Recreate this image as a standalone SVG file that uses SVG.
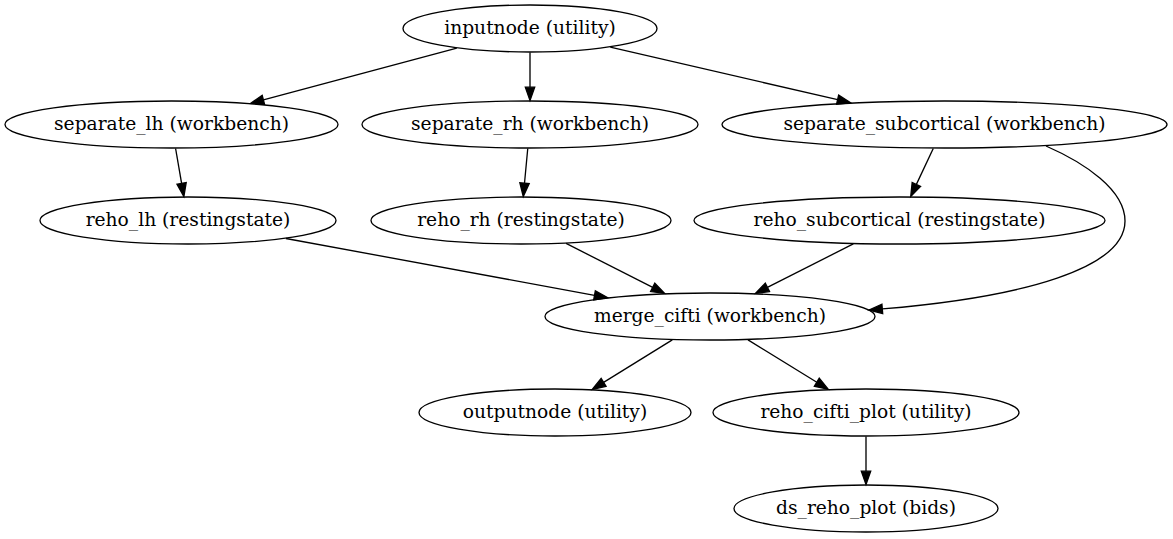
<svg xmlns="http://www.w3.org/2000/svg" width="1173" height="539" viewBox="0 0 1173 539">
<style>
.node ellipse{fill:none;stroke:#000;stroke-width:1.33}
.node text{font-family:"DejaVu Serif","Liberation Serif",serif;font-size:18.67px;text-anchor:middle;fill:#000}
.edges path{fill:none;stroke:#000;stroke-width:1.33;marker-end:url(#arr)}
</style>
<defs>
<marker id="arr" markerUnits="userSpaceOnUse" viewBox="0 -5 14 10" markerWidth="14" markerHeight="10" refX="0" refY="0" orient="auto" overflow="visible">
<path d="M0,-4.67 L13.33,0 L0,4.67 Z" fill="#000" stroke="#000" stroke-width="1.33"/>
</marker>
</defs>
<rect x="0" y="0" width="1173" height="539" fill="#fff"/>
<g class="edges">
<path d="M456.8,48.1 L263.4,99.95"/>
<path d="M530,52.5 L530,87.2"/>
<path d="M610.3,47.1 L837.6,99.7"/>
<path d="M175.6,148.5 L181.6,183.4"/>
<path d="M527.75,148.5 L524.5,183.2"/>
<path d="M933.25,148.5 L916.4,184.4"/>
<path d="M285.9,238.5 L594.5,295.3"/>
<path d="M566.1,243.4 L652.7,287.4"/>
<path d="M853.3,243.9 L767.4,287.4"/>
<path d="M1046,146 C1085,163 1125,190 1125,221 C1125,268 1025,297 882.3,308.9"/>
<path d="M672.3,339.9 L603.6,382.4"/>
<path d="M748,339.9 L816.8,382.2"/>
<path d="M866,436.5 L866,471.2"/>
</g>
<g id="inputnode" class="node"><ellipse cx="530" cy="28.5" rx="127" ry="23.5"/><text x="530" y="34">inputnode (utility)</text></g>
<g id="separate_lh" class="node"><ellipse cx="171.5" cy="124.5" rx="166.5" ry="23.5"/><text x="171.5" y="130">separate_lh (workbench)</text></g>
<g id="separate_rh" class="node"><ellipse cx="530" cy="124.5" rx="168" ry="23.5"/><text x="530" y="130">separate_rh (workbench)</text></g>
<g id="separate_subcortical" class="node"><ellipse cx="944.5" cy="124.5" rx="222.5" ry="23.5"/><text x="944.5" y="130">separate_subcortical (workbench)</text></g>
<g id="reho_lh" class="node"><ellipse cx="188" cy="220.5" rx="148" ry="23.5"/><text x="188" y="226">reho_lh (restingstate)</text></g>
<g id="reho_rh" class="node"><ellipse cx="521" cy="220.5" rx="150" ry="23.5"/><text x="521" y="226">reho_rh (restingstate)</text></g>
<g id="reho_subcortical" class="node"><ellipse cx="899.5" cy="220.5" rx="205.5" ry="23.5"/><text x="899.5" y="226">reho_subcortical (restingstate)</text></g>
<g id="merge_cifti" class="node"><ellipse cx="710" cy="316.5" rx="165" ry="23.5"/><text x="710" y="322">merge_cifti (workbench)</text></g>
<g id="outputnode" class="node"><ellipse cx="555" cy="412.5" rx="136" ry="23.5"/><text x="555" y="418">outputnode (utility)</text></g>
<g id="reho_cifti_plot" class="node"><ellipse cx="866" cy="412.5" rx="153" ry="23.5"/><text x="866" y="418">reho_cifti_plot (utility)</text></g>
<g id="ds_reho_plot" class="node"><ellipse cx="866" cy="508.5" rx="132" ry="23.5"/><text x="866" y="514">ds_reho_plot (bids)</text></g>
</svg>
